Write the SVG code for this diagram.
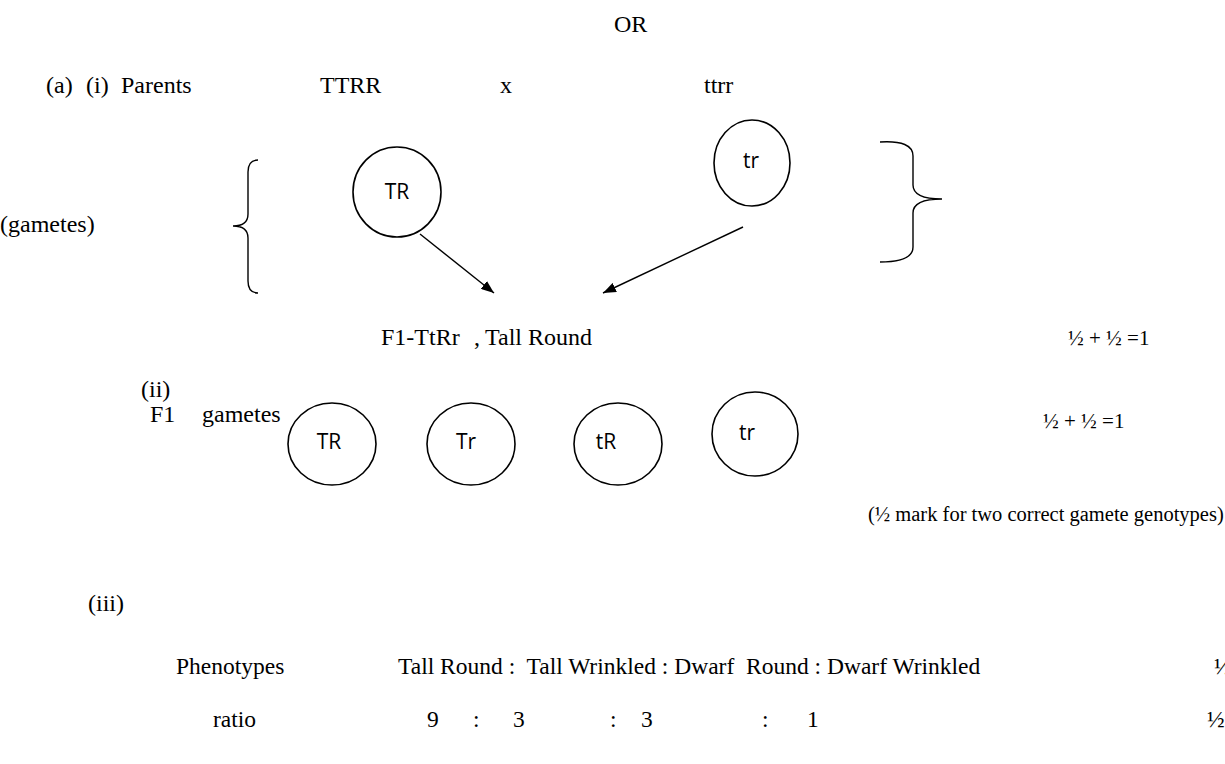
<svg xmlns="http://www.w3.org/2000/svg" width="1225" height="764" viewBox="0 0 1225 764">
<style>
.t{font-family:"Liberation Serif","Times New Roman",serif;font-size:24px;fill:#000}
.s{font-family:"Liberation Serif","Times New Roman",serif;font-size:21px;fill:#000}
.m{font-family:"Liberation Serif","Times New Roman",serif;font-size:20.5px;fill:#000}
.b{font-family:"Liberation Serif","Times New Roman",serif;font-size:23.5px;fill:#000}
.c{font-family:"Open Sans","Noto Sans",sans-serif;font-size:21px;fill:#000}
.o{fill:none;stroke:#000;stroke-width:1.6}
.l{fill:none;stroke:#000;stroke-width:1.4}
</style>
<defs>
<marker id="ah" viewBox="0 0 13 10" refX="13" refY="5" markerWidth="13" markerHeight="10" markerUnits="userSpaceOnUse" orient="auto">
<path d="M0,0 L13,5 L0,10 z" fill="#000"/>
</marker>
</defs>
<rect width="1225" height="764" fill="#fff"/>
<g id="texts">
<text class="t" x="614" y="32">OR</text>
<text class="t" x="46" y="93">(a)</text>
<text class="t" x="86" y="93">(i)</text>
<text class="t" x="121" y="93">Parents</text>
<text class="t" x="320" y="93">TTRR</text>
<text class="t" x="500" y="93">x</text>
<text class="t" x="704" y="93">ttrr</text>
<text class="t" x="0" y="232">(gametes)</text>
<text class="t" x="381" y="345">F1-TtRr</text>
<text class="t" x="474" y="345">,</text>
<text class="t" x="485" y="345">Tall Round</text>
<text class="s" x="1068" y="345">½ + ½ =1</text>
<text class="t" x="141" y="397">(ii)</text>
<text class="t" x="150" y="422">F1</text>
<text class="t" x="202" y="422">gametes</text>
<text class="s" x="1043" y="428">½ + ½ =1</text>
<text class="m" x="868" y="521">(½ mark for two correct gamete genotypes)</text>
<text class="t" x="88" y="611">(iii)</text>
<text class="b" x="176" y="674">Phenotypes</text>
<text class="b" x="398" y="674" xml:space="preserve">Tall Round :  Tall Wrinkled : Dwarf  Round : Dwarf Wrinkled</text>
<text class="b" x="1214" y="674">½</text>
<text class="b" x="213" y="727">ratio</text>
<text class="b" x="427" y="727">9</text>
<text class="b" x="473" y="727">:</text>
<text class="b" x="513" y="727">3</text>
<text class="b" x="610" y="727">:</text>
<text class="b" x="641" y="727">3</text>
<text class="b" x="762" y="727">:</text>
<text class="b" x="807" y="727">1</text>
<text class="b" x="1207" y="727">½</text>
</g>
<g id="braces">
<path class="l" d="M258,160 Q248,160 248,172 L248,214 Q248,226 233,226 Q248,226 248,238 L248,281 Q248,293 258,293"/>
<path class="l" d="M880,142 Q913,140 913,156 L913,185 Q913,199 942,199 Q913,199 913,213 L913,247 Q913,262 880,262"/>
</g>
<g id="node-TR">
<ellipse class="o" cx="397" cy="192" rx="44" ry="45"/>
<text class="c" x="397" y="199" text-anchor="middle">TR</text>
</g>
<g id="node-tr">
<ellipse class="o" cx="752" cy="163" rx="38" ry="43"/>
<text class="c" x="751" y="168" text-anchor="middle">tr</text>
</g>
<g id="node-g1">
<ellipse class="o" cx="332" cy="444" rx="44" ry="41"/>
<text class="c" x="329" y="449" text-anchor="middle">TR</text>
</g>
<g id="node-g2">
<ellipse class="o" cx="471" cy="444" rx="44" ry="41"/>
<text class="c" x="466" y="449" text-anchor="middle">Tr</text>
</g>
<g id="node-g3">
<ellipse class="o" cx="618" cy="444" rx="44" ry="41"/>
<text class="c" x="606" y="449" text-anchor="middle">tR</text>
</g>
<g id="node-g4">
<ellipse class="o" cx="755" cy="434" rx="43" ry="42"/>
<text class="c" x="747" y="440" text-anchor="middle">tr</text>
</g>
<g id="connectors">
<line class="l" x1="420" y1="234" x2="494" y2="293" marker-end="url(#ah)"/>
<line class="l" x1="743" y1="227" x2="603" y2="293" marker-end="url(#ah)"/>
</g>
</svg>
